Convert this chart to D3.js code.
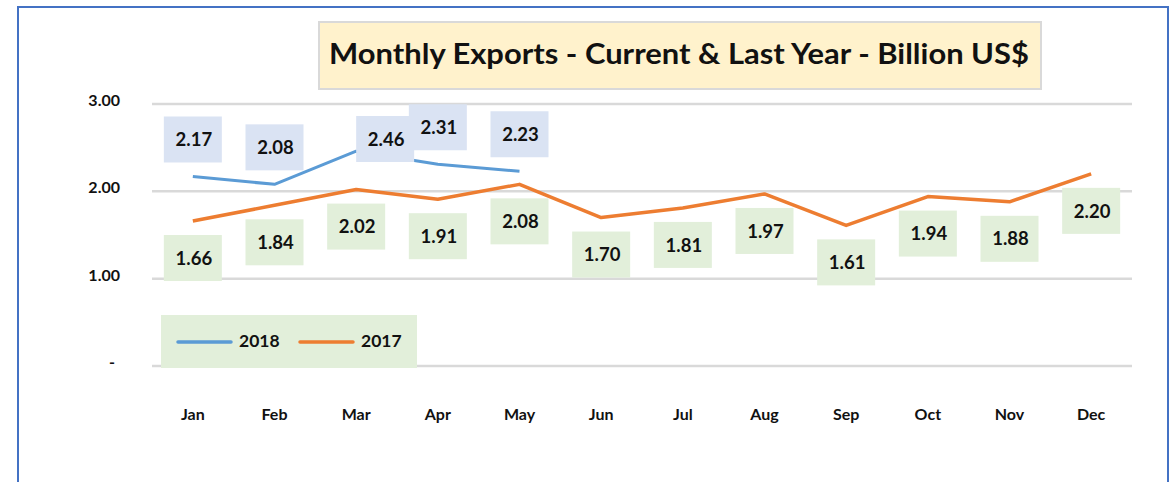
<!DOCTYPE html>
<html>
<head>
<meta charset="utf-8">
<script src="https://cdn.jsdelivr.net/npm/d3@7"></script>
<style>
  html, body { margin: 0; padding: 0; background: #fff; }
  svg { display: block; }
  text { font-family: "Lato", "Open Sans", sans-serif; font-weight: bold; fill: #111; }
</style>
</head>
<body>
<svg id="chart" width="1175" height="482"></svg>
<script>
const months = ["Jan","Feb","Mar","Apr","May","Jun","Jul","Aug","Sep","Oct","Nov","Dec"];
const values2018 = [2.17, 2.08, 2.46, 2.31, 2.23];
const values2017 = [1.66, 1.84, 2.02, 1.91, 2.08, 1.70, 1.81, 1.97, 1.61, 1.94, 1.88, 2.20];
const yTicks = [0, 1, 2, 3];
const seriesNames = ["2018", "2017"];
const titleText = "Monthly Exports - Current & Last Year - Billion US$";

(function () {
const svg = d3.select("#chart");

// outer frame
svg.append("rect").attr("x", 18).attr("y", 7).attr("width", 1150).attr("height", 490)
  .attr("fill", "none").attr("stroke", "#4472C4").attr("stroke-width", 2);

const pL = 152, pR = 1132, pT = 104, pB = 366;
const x = d3.scaleBand().domain(months).range([pL, pR]);
const y = d3.scaleLinear().domain([0, 3]).range([pB, pT]);
const cx = m => x(m) + x.bandwidth() / 2;

// gridlines
svg.append("g").selectAll("line").data(yTicks).join("line")
  .attr("x1", pL).attr("x2", pR)
  .attr("y1", d => y(d)).attr("y2", d => y(d))
  .attr("stroke", "#d9d9d9").attr("stroke-width", 2.5);

// y axis labels
const yAxis = d3.axisLeft(y).tickValues(yTicks).tickSize(0).tickPadding(0)
  .tickFormat(d => d === 0 ? "-" : d3.format(".2f")(d));
const ya = svg.append("g").attr("transform", `translate(120,0)`).call(yAxis);
ya.select(".domain").remove();
ya.selectAll("text").attr("font-size", 16).attr("font-family", "Lato, sans-serif")
  .attr("font-weight", "bold").attr("fill", "#111").attr("dy", "0.1em");
ya.selectAll(".tick").filter(d => d === 0).select("text").attr("dx", "-5");

// x axis labels
const xAxis = d3.axisBottom(x).tickSize(0).tickPadding(0);
const xa = svg.append("g").attr("transform", `translate(0,409)`).call(xAxis);
xa.select(".domain").remove();
xa.selectAll("text").attr("font-size", 16).attr("font-family", "Lato, sans-serif")
  .attr("font-weight", "bold").attr("fill", "#111");

// title
const tg = svg.append("g");
tg.append("rect").attr("x", 319).attr("y", 22).attr("width", 722).attr("height", 67)
  .attr("fill", "#FFF2CC").attr("stroke", "#d9d9d9").attr("stroke-width", 2);
const tt = tg.append("text").attr("x", 329).attr("y", 64).attr("font-size", 28).text(titleText);
tt.attr("textLength", 700).attr("lengthAdjust", "spacingAndGlyphs");

// lines
const line = d3.line().x((d, i) => cx(months[i])).y(d => y(d));
svg.append("path").datum(values2017).attr("d", line)
  .attr("fill", "none").attr("stroke", "#ED7D31").attr("stroke-width", 3.5).attr("stroke-linejoin", "round");
svg.append("path").datum(values2018).attr("d", line)
  .attr("fill", "none").attr("stroke", "#5B9BD5").attr("stroke-width", 3).attr("stroke-linejoin", "round");

// data labels
const bw = 58, bh = 46;
function addLabel(v, m, above, fill) {
  let tx = cx(m), ty = above ? y(v) - 37 : y(v) + 37;
  if (above && ty - bh / 2 < 100) { ty = 139; tx = cx(m) + bw / 2; }
  const g = svg.append("g");
  g.append("rect").attr("x", tx - bw / 2).attr("y", ty - bh / 2).attr("width", bw).attr("height", bh).attr("fill", fill);
  g.append("text").attr("x", tx + 1).attr("y", ty).attr("dy", "0.36em").attr("text-anchor", "middle")
    .attr("font-size", 18.5).text(d3.format(".2f")(v));
}
values2017.forEach((v, i) => addLabel(v, months[i], false, "#E2EFDA"));
values2018.forEach((v, i) => addLabel(v, months[i], true, "#DAE3F3"));

// legend
const lg = svg.append("g");
lg.append("rect").attr("x", 161).attr("y", 315).attr("width", 256).attr("height", 53).attr("fill", "#E2EFDA");
const legendColors = ["#5B9BD5", "#ED7D31"];
seriesNames.forEach((s, i) => {
  const ox = 178 + i * 122;
  lg.append("line").attr("x1", ox).attr("x2", ox + 53).attr("y1", 342).attr("y2", 342)
    .attr("stroke", legendColors[i]).attr("stroke-width", 3.5).attr("stroke-linecap", "round");
  lg.append("text").attr("x", ox + 61).attr("y", 341).attr("dy", "0.36em").attr("font-size", 17.5).text(s);
});
})();
</script>
</body>
</html>
